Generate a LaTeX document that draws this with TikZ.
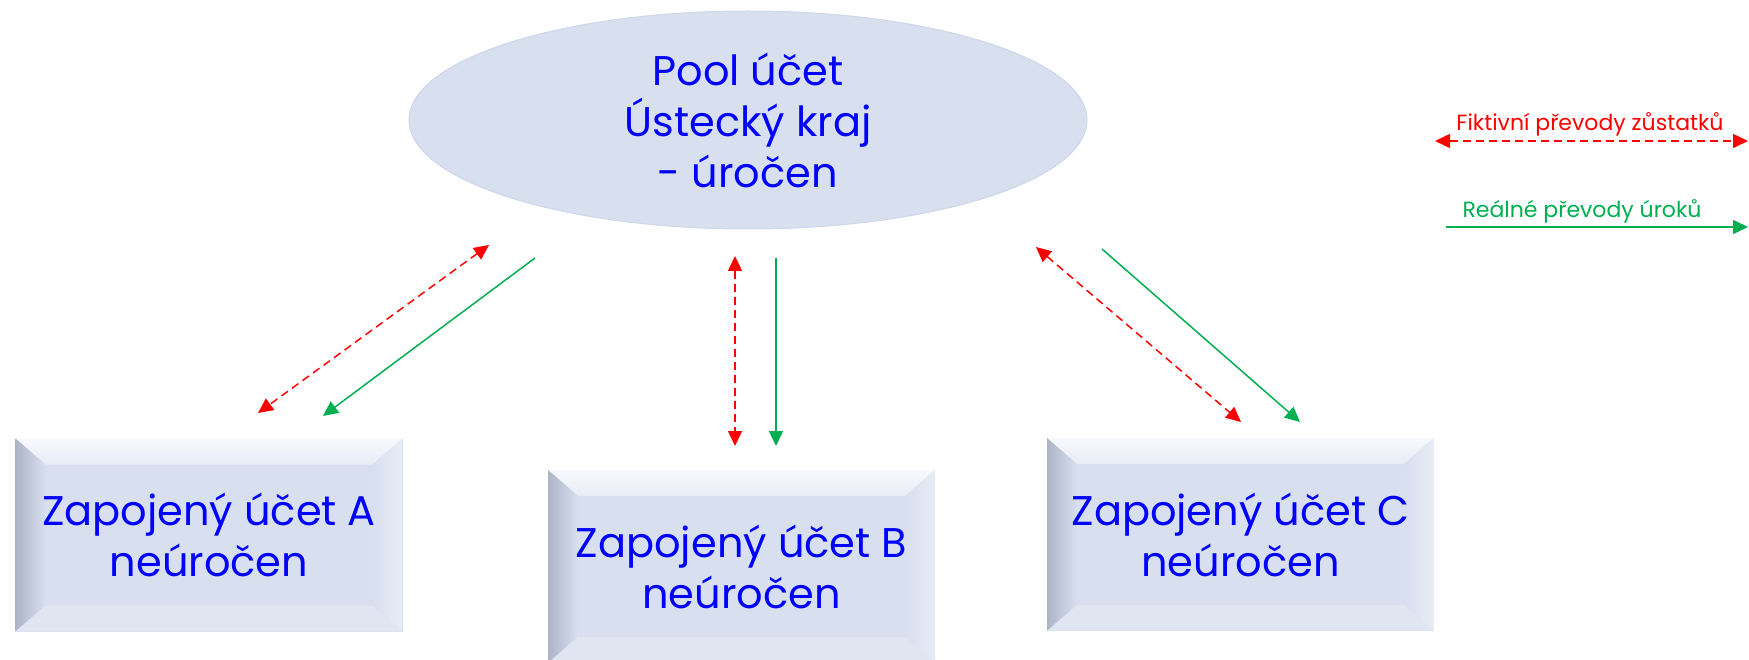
\documentclass[tikz,border=0pt]{standalone}
\usepackage{fontspec}
\setmainfont{Poppins}
\usetikzlibrary{shapes.geometric,arrows.meta,calc}
\definecolor{txtblue}{RGB}{0,0,255}
\definecolor{fillblue}{RGB}{216,223,239}
\definecolor{rimblue}{RGB}{208,215,233}
\definecolor{bevtop}{RGB}{248,249,253}
\definecolor{bevleft}{RGB}{172,180,198}
\definecolor{bevright}{RGB}{232,236,245}
\definecolor{bevbot}{RGB}{224,229,242}
\definecolor{arrred}{RGB}{255,0,0}
\definecolor{arrgreen}{RGB}{0,176,80}
\tikzset{
  bigtext/.style={font=\fontsize{41.5}{51}\selectfont, text=txtblue, align=center},
  poolshape/.style={ellipse, fill=fillblue, draw=rimblue, line width=1pt, inner sep=0pt,
    minimum width=678pt, minimum height=218pt, bigtext},
  bevbox/.style={rectangle, inner sep=0pt, minimum width=387pt, minimum height=193pt,
    fill=fillblue, bigtext,
    path picture={
      \coordinate (nw) at (path picture bounding box.north west);
      \coordinate (ne) at (path picture bounding box.north east);
      \coordinate (sw) at (path picture bounding box.south west);
      \coordinate (se) at (path picture bounding box.south east);
      \shade[top color=bevtop, bottom color=fillblue!50!bevtop]
        (nw) -- (ne) -- ($(ne)+(-30pt,-26pt)$) -- ($(nw)+(30pt,-26pt)$) -- cycle;
      \shade[left color=bevleft, right color=fillblue]
        (nw) -- ($(nw)+(30pt,-26pt)$) -- ($(sw)+(30pt,26pt)$) -- (sw) -- cycle;
      \shade[left color=fillblue, right color=bevright]
        (ne) -- ($(ne)+(-30pt,-26pt)$) -- ($(se)+(-30pt,26pt)$) -- (se) -- cycle;
      \fill[bevbot]
        (sw) -- ($(sw)+(30pt,26pt)$) -- ($(se)+(-30pt,26pt)$) -- (se) -- cycle;
    }},
  tip/.tip={Triangle[length=15pt,width=14pt]},
  fict/.style={draw=arrred, line width=1.5pt, dash pattern=on 8pt off 5pt, tip-tip},
  real/.style={draw=arrgreen, line width=1.5pt, -tip},
  legtext/.style={font=\fontsize{22}{26}\selectfont, anchor=base, inner sep=0pt},
}
\begin{document}
\begin{tikzpicture}[x=1pt,y=-1pt]
\useasboundingbox (0,0) rectangle (1749,660);

\node[poolshape] (pool) at (748,120) {Pool účet\\Ústecký kraj\\- úročen};
\node[bevbox] (A) at (209,535) {Zapojený účet A\\neúročen};
\node[bevbox] (B) at (741.5,566.5) {Zapojený účet B\\neúročen};
\node[bevbox] (C) at (1240.5,534.5) {Zapojený účet C\\neúročen};

% free ends of the connectors
\coordinate (fa1) at (489,245);  \coordinate (fa2) at (258,413);
\coordinate (ra1) at (535,258);  \coordinate (ra2) at (323,416);
\coordinate (fb1) at (735,256);  \coordinate (fb2) at (735,446);
\coordinate (rb1) at (776,258);  \coordinate (rb2) at (776,446);
\coordinate (fc1) at (1036,247); \coordinate (fc2) at (1241,422);
\coordinate (rc1) at (1102,249); \coordinate (rc2) at (1300,422);

\draw[fict] (fa1) -- (fa2);
\draw[real] (ra1) -- (ra2);
\draw[fict] (fb1) -- (fb2);
\draw[real] (rb1) -- (rb2);
\draw[fict] (fc1) -- (fc2);
\draw[real] (rc1) -- (rc2);

% legend
\node[legtext, text=arrred] (lf) at (1590,131) {Fiktivní převody zůstatků};
\coordinate (lf1) at (1435,141); \coordinate (lf2) at (1748,141);
\draw[fict] (lf1) -- (lf2);
\node[legtext, text=arrgreen] (lr) at (1582,218) {Reálné převody úroků};
\coordinate (lr1) at (1446,227); \coordinate (lr2) at (1748,227);
\draw[real] (lr1) -- (lr2);
\end{tikzpicture}
\end{document}
